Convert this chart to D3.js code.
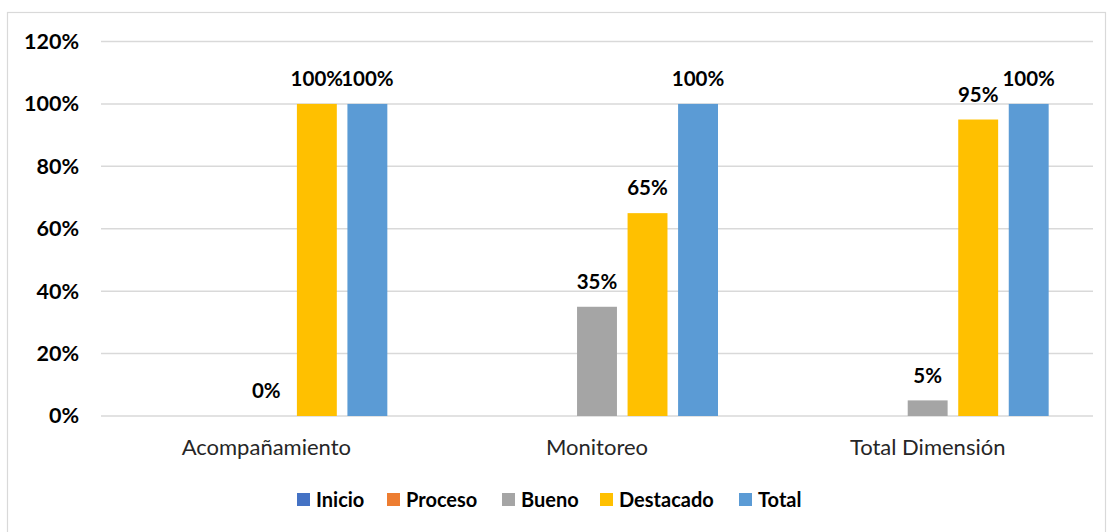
<!DOCTYPE html>
<html><head><meta charset="utf-8">
<script src="https://cdn.jsdelivr.net/npm/d3@7"></script>
<style>body{margin:0;background:#fff}svg{display:block}</style>
</head><body>
<svg id="c" width="1107" height="532"></svg>
<script>
const categories = ["Acompañamiento", "Monitoreo", "Total Dimensión"];
const seriesNames = ["Inicio", "Proceso", "Bueno", "Destacado", "Total"];
const inicio = [null, null, null];
const proceso = [null, null, null];
const bueno = [0, 0.35, 0.05];
const destacado = [1, 0.65, 0.95];
const total = [1, 1, 1];
const yTicks = [0, 0.2, 0.4, 0.6, 0.8, 1.0, 1.2];
const colors = ["#4472C4", "#ED7D31", "#A5A5A5", "#FFC000", "#5B9BD5"];

(function () {
const seriesValues = [inicio, proceso, bueno, destacado, total];
const svg = d3.select("#c");
const pLeft = 101, pRight = 1093, pTop = 41.5, pBottom = 416;
const font = "Lato, 'Open Sans', sans-serif";

// outer border
svg.append("rect").attr("x", 7.5).attr("y", 12.5).attr("width", 1098).attr("height", 530)
  .attr("fill", "none").attr("stroke", "#D9D9D9").attr("stroke-width", 1.2);

const y = d3.scaleLinear().domain([0, 1.2]).range([pBottom, pTop]);
const x0 = d3.scaleBand().domain(categories).range([pLeft, pRight]);
const bw = x0.bandwidth();
const inner = 242;
const x1 = d3.scaleBand().domain(seriesNames).range([(bw - inner) / 2, (bw + inner) / 2]).paddingInner(0.21);

// gridlines
svg.append("g").selectAll("line").data(yTicks).join("line")
  .attr("x1", pLeft).attr("x2", pRight)
  .attr("y1", d => y(d)).attr("y2", d => y(d))
  .attr("stroke", "#D9D9D9").attr("stroke-width", 1.5);

// y axis labels
const yAxis = d3.axisLeft(y).tickValues(yTicks).tickFormat(d3.format(".0%")).tickSize(0).tickPadding(0);
const ya = svg.append("g").attr("transform", "translate(79,0)").call(yAxis);
ya.select(".domain").remove();
ya.selectAll("text").attr("font-family", font).attr("font-weight", "bold").attr("font-size", 21.5).attr("fill", "#000");

// x axis labels
const xAxis = d3.axisBottom(x0).tickSize(0).tickPadding(0);
const xa = svg.append("g").attr("transform", `translate(0,${pBottom + 31})`).call(xAxis);
xa.select(".domain").remove();
xa.selectAll("text").attr("y", 0).attr("dy", "0.35em")
  .attr("font-family", font).attr("font-size", 22).attr("fill", "#262626");

// bars
const data = [];
categories.forEach((c, ci) => seriesNames.forEach((s, si) => {
  const v = seriesValues[si][ci];
  if (v !== null) data.push({ c, s, si, v });
}));
const g = svg.append("g");
g.selectAll("rect").data(data).join("rect")
  .attr("x", d => x0(d.c) + x1(d.s))
  .attr("width", x1.bandwidth())
  .attr("y", d => y(d.v))
  .attr("height", d => pBottom - y(d.v))
  .attr("fill", d => colors[d.si]);

g.selectAll("text").data(data).join("text")
  .attr("x", d => x0(d.c) + x1(d.s) + x1.bandwidth() / 2)
  .attr("y", d => y(d.v) - 25)
  .attr("dy", "0.35em")
  .attr("text-anchor", "middle")
  .attr("font-family", font).attr("font-weight", "bold").attr("font-size", 20.5).attr("fill", "#000")
  .text(d => d3.format(".0%")(d.v));

// legend
const legendX = [297, 387, 502, 600, 739];
const lg = svg.append("g").selectAll("g").data(seriesNames).join("g")
  .attr("transform", (d, i) => `translate(${legendX[i]},493)`);
lg.append("rect").attr("width", 13).attr("height", 13).attr("fill", (d, i) => colors[i]);
lg.append("text").attr("x", 19).attr("y", 7).attr("dy", "0.35em")
  .attr("font-family", font).attr("font-weight", "bold").attr("font-size", 20).attr("fill", "#000")
  .text(d => d);
})();
</script>
</body></html>
